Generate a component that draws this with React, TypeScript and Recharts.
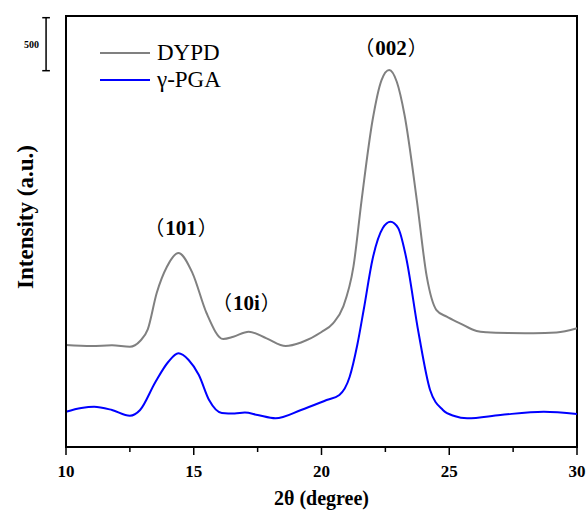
import React from 'react';
import { LineChart, Line, XAxis, YAxis, ReferenceArea, ReferenceLine, ReferenceDot, Legend } from 'recharts';

const FONT = '"Liberation Serif", "Times New Roman", serif';
const CJK = '"Noto Sans CJK SC", "Noto Sans CJK JP", sans-serif';

// DYPD (gray) trace
const dypdTheta = [10, 11, 11.8, 12.5, 12.9, 13.2, 13.55, 13.95, 14.4, 14.95, 15.5, 16.15, 16.55, 17.15, 17.85, 18.6, 19.2, 20.0, 20.45, 20.85, 21.25, 21.57, 22.0, 22.35, 22.65, 22.95, 23.25, 23.73, 24.12, 24.5, 24.9, 25.42, 26.07, 26.47, 27.3, 28.3, 29.2, 30];
const dypdIntensity = [962, 953, 959, 946, 1000, 1110, 1453, 1701, 1830, 1641, 1264, 1019, 1040, 1088, 1025, 953, 986, 1085, 1167, 1324, 1701, 2330, 3085, 3462, 3557, 3443, 3132, 2330, 1607, 1292, 1229, 1167, 1094, 1082, 1075, 1073, 1080, 1120];

// γ-PGA (blue) trace
const pgaTheta = [10, 10.6, 11.1, 11.8, 12.5, 12.9, 13.5, 14.0, 14.4, 14.8, 15.2, 15.6, 16.1, 16.6, 17.0, 17.5, 18.2, 19.2, 20.2, 20.7, 21.1, 21.4, 21.65, 22.0, 22.4, 22.7, 23.0, 23.3, 23.8, 24.25, 24.75, 25.2, 25.7, 27.0, 28.7, 30];
const pgaIntensity = [333, 368, 380, 349, 295, 349, 613, 802, 884, 821, 679, 443, 321, 316, 325, 302, 271, 349, 443, 491, 660, 962, 1292, 1774, 2066, 2125, 2066, 1802, 1075, 538, 349, 292, 271, 302, 333, 311];

const xTicks = [10, 12.5, 15, 17.5, 20, 22.5, 25, 27.5, 30];
const majorTicks = [10, 15, 20, 25, 30];

const peakLabels = ['002', '101', '10i'];
const peakTheta = [22.72, 14.5, 17.06];
const peakIntensity = [3764, 2066, 1358];

const Y_MAX = 4066;
const SCALE_BAR = { theta: 9.22, cap: 0.15, low: 3550, high: 4050, label: '500' };

const dypdData = dypdTheta.map((x, i) => ({ x, y: dypdIntensity[i] }));
const pgaData = pgaTheta.map((x, i) => ({ x, y: pgaIntensity[i] }));

const XTick = (props: any) => {
  const { x, y, payload } = props;
  const major = majorTicks.includes(payload.value);
  return (
    <g>
      <line x1={x} x2={x} y1={y} y2={y + (major ? 8 : 5)} stroke="#000" strokeWidth={1.5} />
      {major && (
        <text x={x} y={y + 30} textAnchor="middle" fontFamily={FONT} fontWeight="bold" fontSize={17} fill="#000">
          {payload.value}
        </text>
      )}
    </g>
  );
};

// miller index label: thin brackets around bold serif digits
const PeakLabel = (props: any) => {
  const { viewBox, value } = props;
  const cx = viewBox.x + (viewBox.width || 0) / 2;
  const cy = viewBox.y + (viewBox.height || 0) / 2;
  return (
    <text x={cx} y={cy + 7} textAnchor="middle" fill="#000">
      <tspan fontFamily={CJK} fontSize={20} fontWeight="normal">（</tspan>
      <tspan dx={1} fontFamily={FONT} fontSize={21} fontWeight="bold">{value}</tspan>
      <tspan dx={1} fontFamily={CJK} fontSize={20} fontWeight="normal">）</tspan>
    </text>
  );
};

const LegendBox = (props: any) => {
  const { payload } = props;
  return (
    <div style={{ fontFamily: FONT, fontSize: 23, color: '#000' }}>
      {(payload || []).map((p: any) => (
        <div key={p.value} style={{ display: 'flex', alignItems: 'center', height: 27 }}>
          <svg width={52} height={4} style={{ marginRight: 5 }}>
            <line x1={0} x2={50} y1={2} y2={2} stroke={p.color} strokeWidth={2} />
          </svg>
          <span style={{ lineHeight: '27px' }}>{p.value}</span>
        </div>
      ))}
    </div>
  );
};

export default function App() {
  return (
    <div style={{ position: 'absolute', left: 0, top: 0, width: 587, height: 510, background: '#fff' }}>
      <LineChart width={587} height={510} margin={{ top: 16, right: 10, bottom: 0, left: 0 }}>
        <XAxis
          type="number"
          dataKey="x"
          domain={[10, 30]}
          ticks={xTicks}
          interval={0}
          tickSize={0}
          tickMargin={0}
          tickLine={false}
          tick={<XTick />}
          height={63}
          axisLine={{ stroke: '#000', strokeWidth: 2 }}
          allowDuplicatedCategory={false}
          label={{ value: '2θ (degree)', position: 'insideBottom', offset: 5, fontFamily: FONT, fontWeight: 'bold', fontSize: 20, fill: '#000' }}
        />
        <YAxis
          type="number"
          domain={[0, Y_MAX]}
          width={66}
          tick={false}
          tickLine={false}
          axisLine={{ stroke: '#000', strokeWidth: 2 }}
          label={{
            content: () => (
              <text x={33} y={217} transform="rotate(-90, 33, 217)" textAnchor="middle" fontFamily={FONT} fontWeight="bold" fontSize={23} fill="#000">
                Intensity (a.u.)
              </text>
            ),
          }}
        />
        <ReferenceArea x1={10} x2={30} y1={0} y2={Y_MAX} fill="none" stroke="#000" strokeWidth={2} ifOverflow="visible" />
        <ReferenceLine
          segment={[{ x: SCALE_BAR.theta, y: SCALE_BAR.low }, { x: SCALE_BAR.theta, y: SCALE_BAR.high }]}
          stroke="#000"
          strokeWidth={1.5}
          ifOverflow="visible"
          label={{ value: SCALE_BAR.label, position: 'left', offset: 7, fontFamily: FONT, fontWeight: 'bold', fontSize: 10, fill: '#000' }}
        />
        <ReferenceLine
          segment={[{ x: SCALE_BAR.theta - SCALE_BAR.cap, y: SCALE_BAR.high }, { x: SCALE_BAR.theta + SCALE_BAR.cap, y: SCALE_BAR.high }]}
          stroke="#000"
          strokeWidth={1.5}
          ifOverflow="visible"
        />
        <ReferenceLine
          segment={[{ x: SCALE_BAR.theta - SCALE_BAR.cap, y: SCALE_BAR.low }, { x: SCALE_BAR.theta + SCALE_BAR.cap, y: SCALE_BAR.low }]}
          stroke="#000"
          strokeWidth={1.5}
          ifOverflow="visible"
        />
        {peakLabels.map((t, i) => (
          <ReferenceDot
            key={t}
            x={peakTheta[i]}
            y={peakIntensity[i]}
            r={0}
            stroke="none"
            fill="none"
            label={<PeakLabel value={t} />}
          />
        ))}
        <Legend
          layout="vertical"
          align="center"
          verticalAlign="middle"
          wrapperStyle={{ left: 100, top: 39, width: 170, height: 60 }}
          content={<LegendBox />}
        />
        <Line data={dypdData} dataKey="y" name="DYPD" type="monotone" stroke="#808080" strokeWidth={2} dot={false} isAnimationActive={false} />
        <Line data={pgaData} dataKey="y" name="γ-PGA" type="monotone" stroke="#0000ff" strokeWidth={2} dot={false} isAnimationActive={false} />
      </LineChart>
    </div>
  );
}
